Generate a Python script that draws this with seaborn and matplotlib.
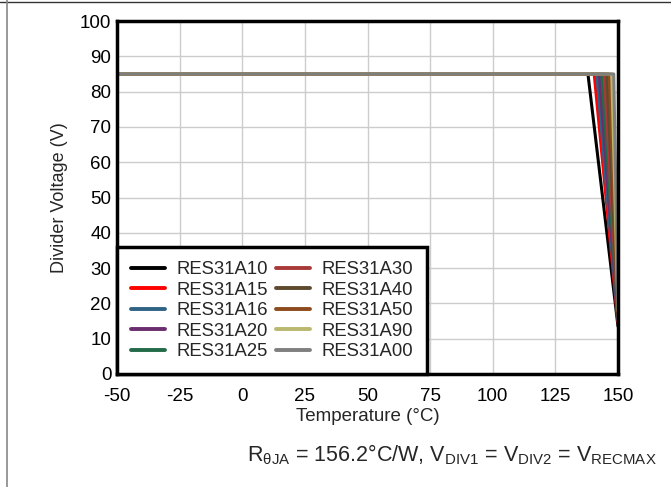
import matplotlib
matplotlib.use("Agg")
import matplotlib.pyplot as plt
from matplotlib.lines import Line2D
import numpy as np
import pandas as pd
import seaborn as sns

# Divider voltage vs temperature for each device variant
series = ["RES31A10", "RES31A15", "RES31A16", "RES31A20", "RES31A25",
          "RES31A30", "RES31A40", "RES31A50", "RES31A90", "RES31A00"]
colors = ["#000000", "#FF0000", "#2F6385", "#6A2D6E", "#236B48",
          "#A83A3A", "#5E4A2C", "#8E4B1E", "#B9B86E", "#7F7F7F"]
temp_start = [-50.0] * 10
knee_temp = [138.0, 140.5, 141.5, 142.5, 143.5, 144.5, 145.5, 146.5, 147.5, 148.3]
end_temp = [150.0] * 10
plateau_v = [85.0] * 10
end_v = [13.5, 14.5, 15.0, 15.5, 16.0, 16.5, 17.0, 17.5, 18.0, 18.5]

rows = []
for name, t0, tk, t1, vp, ve in zip(series, temp_start, knee_temp, end_temp, plateau_v, end_v):
    rows += [(name, t0, vp), (name, tk, vp), (name, t1, ve)]
df = pd.DataFrame(rows, columns=["device", "temp", "volt"])

sns.set_style("white")
plt.rcParams["font.family"] = ["Liberation Sans", "DejaVu Sans"]
plt.rcParams["mathtext.fontset"] = "custom"
plt.rcParams["mathtext.rm"] = "Liberation Sans"
plt.rcParams["axes.unicode_minus"] = False

fig = plt.figure(figsize=(6.71, 4.87), dpi=100)
ax = fig.add_axes([117 / 671, 1 - 374 / 487, (618 - 117) / 671, (374 - 21) / 487])

sns.lineplot(data=df, x="temp", y="volt", hue="device", hue_order=series,
             palette=colors, sort=False, estimator=None, linewidth=2.2, ax=ax,
             legend=False)
for ln in ax.get_lines():
    ln.set_solid_joinstyle("round")

ax.set_xlim(-50, 150)
ax.set_ylim(0, 100)
ax.set_xticks(np.arange(-50, 151, 25))
ax.set_yticks(np.arange(0, 101, 10))
ax.grid(True, color="#CCCCCC", linewidth=1.0)
ax.set_axisbelow(True)
for sp in ax.spines.values():
    sp.set_color("black")
    sp.set_linewidth(2.5)
ax.tick_params(axis="both", labelsize=13.5, length=0, colors="black")
ax.tick_params(axis="x", pad=10)
ax.tick_params(axis="y", pad=4)
ax.set_xlabel("Temperature (°C)", fontsize=13.5, labelpad=2)
ax.set_ylabel("Divider Voltage (V)", fontsize=13, labelpad=9)

handles = [Line2D([0], [0], color=c, linewidth=2.8) for c in colors]
leg = ax.legend(handles, series, ncol=2, loc="lower left", bbox_to_anchor=(0.0, 0.0),
                fontsize=13.3, frameon=True, fancybox=False, handlelength=1.85,
                handletextpad=0.6, columnspacing=0.45, labelspacing=0.19,
                borderpad=0.75, borderaxespad=0.0)
leg.get_frame().set_edgecolor("black")
leg.get_frame().set_linewidth(2.5)
leg.get_frame().set_facecolor("white")
leg.get_frame().set_alpha(1.0)

fig.text(452 / 671, 1 - 455 / 487,
         r"R$_{\mathregular{\theta JA}}$ = 156.2°C/W, V$_{\mathregular{DIV1}}$ = "
         r"V$_{\mathregular{DIV2}}$ = V$_{\mathregular{RECMAX}}$",
         fontsize=15.5, ha="center", va="center")

# page rules
fig.add_artist(Line2D([0, 1], [1 - 2 / 487, 1 - 2 / 487], transform=fig.transFigure,
                      color="#333333", linewidth=1.0))
fig.add_artist(Line2D([7 / 671, 7 / 671], [0, 1], transform=fig.transFigure,
                      color="#888888", linewidth=1.2))

fig.savefig("out.png", dpi=100)
